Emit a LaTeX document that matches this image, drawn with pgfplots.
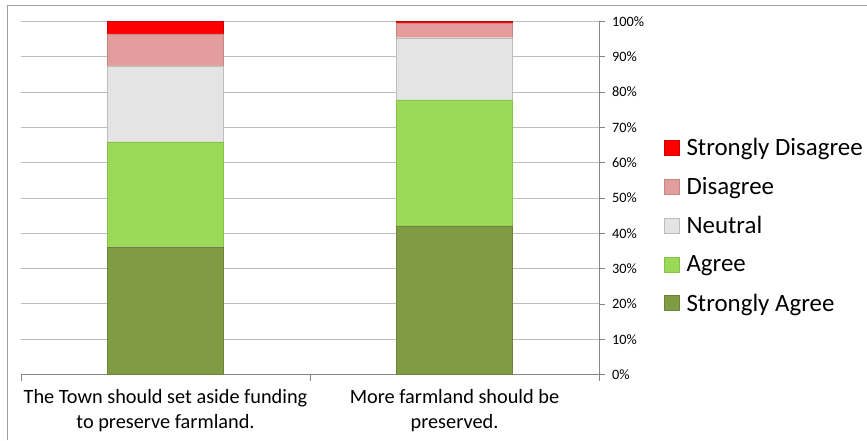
\documentclass[border=0pt]{standalone}
\usepackage{fontspec}
\setmainfont{Carlito}
\usepackage{pgfplots}
\pgfplotsset{compat=1.18}
\definecolor{sagree}{HTML}{7F9B43}
\definecolor{sagreeD}{HTML}{6B8438}
\definecolor{agree}{HTML}{9BDA58}
\definecolor{agreeD}{HTML}{86C24A}
\definecolor{neutral}{HTML}{E4E4E4}
\definecolor{neutralD}{HTML}{BDBDBD}
\definecolor{disagree}{HTML}{E49D9D}
\definecolor{disagreeD}{HTML}{C98585}
\definecolor{sdis}{HTML}{FF0000}
\definecolor{sdisD}{HTML}{D00000}
\definecolor{gridc}{HTML}{BEBEBE}
\definecolor{axc}{HTML}{868686}
\begin{document}
\begin{tikzpicture}[x=1pt,y=1pt]
\path[use as bounding box] (0,0) rectangle (867,440);
\draw[color=axc!80, line width=1pt] (7,0) -- (7,434) -- (867,434);
\begin{axis}[
  at={(21pt,65.5pt)}, anchor=south west,
  scale only axis, width=578pt, height=353pt,
  ybar stacked, bar width=116pt,
  xmin=-0.5, xmax=1.5, ymin=0, ymax=100,
  axis y line*=right, axis x line*=bottom,
  axis line style={color=axc, line width=0.8pt},
  ymajorgrids, grid style={color=gridc, line width=1pt},
  ytick={0,10,...,100},
  yticklabel={\pgfmathprintnumber{\tick}\%},
  /pgf/number format/assume math mode=true,
  yticklabel style={font=\fontsize{14.3}{16}\selectfont, anchor=west, xshift=3.5pt},
  major tick length=6pt, tick align=outside,
  major tick style={color=axc, line width=0.8pt},
  xtick={0,1},
  xticklabels={The Town should set aside funding\\to preserve farmland., More farmland should be\\preserved.},
  xticklabel style={font=\fontsize{20.3}{25}\selectfont, align=center, yshift=-5pt},
  xtick style={draw=none},
  extra x ticks={-0.5,0.5,1.5}, extra x tick labels={},
  extra x tick style={major tick length=6pt, xtick style={draw=axc, line width=0.8pt}, grid=none},
  legend style={draw=none, fill=none, at={(1.112,0.676)}, anchor=north west,
    font=\fontsize{24.9}{26}\selectfont, row sep=16.5pt, inner sep=0pt,
    /tikz/every odd column/.append style={column sep=5pt}},
  legend cell align=left,
  reverse legend,
  legend image code/.code={\draw[#1, line width=0.6pt] (0pt,-7.5pt) rectangle (15pt,7.5pt);},
]
\addplot[fill=sagree, draw=sagreeD] coordinates {(0,36.2) (1,42.1)};
\addplot[fill=agree, draw=agreeD] coordinates {(0,29.7) (1,35.7)};
\addplot[fill=neutral, draw=neutralD] coordinates {(0,21.5) (1,17.6)};
\addplot[fill=disagree, draw=disagreeD] coordinates {(0,9.1) (1,4.0)};
\addplot[fill=sdis, draw=sdisD] coordinates {(0,3.5) (1,0.6)};
\legend{Strongly Agree, Agree, Neutral, Disagree, Strongly Disagree}
\end{axis}
\end{tikzpicture}
\end{document}
